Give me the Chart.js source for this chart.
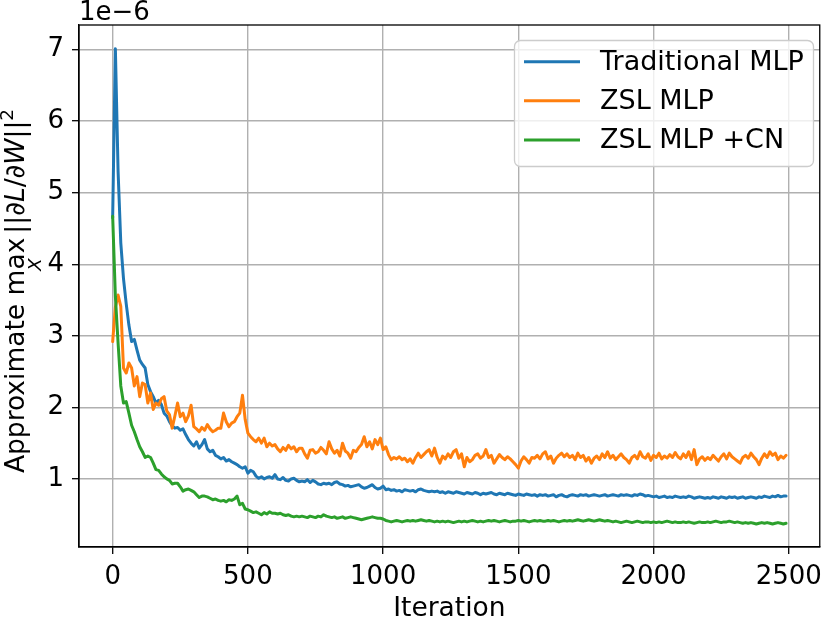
<!DOCTYPE html>
<html>
<head>
<meta charset="utf-8">
<script src="https://cdn.jsdelivr.net/npm/chart.js@4.4.0/dist/chart.umd.min.js"></script>
<style>
  html, body { margin: 0; padding: 0; background: #fff; }
  #wrap { width: 830px; height: 621px; }
</style>
</head>
<body>
<div id="wrap"><canvas id="chart" width="830" height="621"></canvas></div>
<script>
// values, one point every 10 iterations (rows of 100 iterations)
const ITER_STEP = 10;

const traditionalMLP = [
  4.65, 7.01, 5.30, 4.30, 3.80, 3.45, 3.15, 2.92, 2.95, 2.80,
  2.66, 2.60, 2.55, 2.32, 2.22, 2.15, 2.06, 2.10, 2.04, 1.92,
  1.88, 1.80, 1.74, 1.71, 1.72, 1.68, 1.70, 1.62, 1.55, 1.50,
  1.46, 1.52, 1.43, 1.48, 1.55, 1.42, 1.38, 1.40, 1.33, 1.31,
  1.28, 1.30, 1.25, 1.27, 1.24, 1.22, 1.20, 1.17, 1.15, 1.17,
  1.08, 1.12, 1.10, 1.04, 1.01, 1.03, 1.00, 1.02, 1.03, 1.01,
  1.06, 1.00, 0.99, 1.02, 0.98, 0.97, 1.00, 1.01, 0.98, 0.96,
  0.97, 0.96, 0.99, 0.95, 0.98, 0.96, 0.93, 0.92, 0.94, 0.93,
  0.94, 0.92, 0.95, 0.96, 0.93, 0.92, 0.90, 0.91, 0.89, 0.90,
  0.91, 0.92, 0.89, 0.87, 0.88, 0.90, 0.92, 0.88, 0.86, 0.87,
  0.90, 0.85, 0.86, 0.84, 0.85, 0.83, 0.84, 0.82, 0.85, 0.84,
  0.83, 0.84, 0.82, 0.85, 0.86, 0.84, 0.83, 0.82, 0.83, 0.82,
  0.83, 0.81, 0.82, 0.80, 0.82, 0.81, 0.80, 0.82, 0.81, 0.80,
  0.79, 0.81, 0.80, 0.79, 0.81, 0.80, 0.78, 0.80, 0.79, 0.80,
  0.81, 0.79, 0.78, 0.80, 0.79, 0.78, 0.80, 0.79, 0.78, 0.77,
  0.79, 0.78, 0.77, 0.79, 0.78, 0.77, 0.78, 0.76, 0.78, 0.77,
  0.78, 0.76, 0.77, 0.78, 0.75, 0.77, 0.78, 0.76, 0.75, 0.77,
  0.78, 0.77, 0.76, 0.78, 0.77, 0.78, 0.76, 0.77, 0.78, 0.77,
  0.76, 0.77, 0.78, 0.76, 0.77, 0.78, 0.77, 0.76, 0.78, 0.77,
  0.78, 0.77, 0.76, 0.78, 0.77, 0.79, 0.78, 0.76, 0.77, 0.76,
  0.75, 0.76, 0.74, 0.75, 0.76, 0.74, 0.75, 0.74, 0.76, 0.75,
  0.74, 0.75, 0.74, 0.76, 0.75, 0.73, 0.74, 0.75, 0.74, 0.73,
  0.74, 0.73, 0.75, 0.74, 0.73, 0.75, 0.74, 0.73, 0.75, 0.74,
  0.75, 0.73, 0.74, 0.75, 0.73, 0.74, 0.75, 0.74, 0.73, 0.75,
  0.74, 0.76, 0.75, 0.74, 0.76, 0.75, 0.77, 0.75, 0.76, 0.76
];

const zslMLP = [
  2.92, 3.40, 3.57, 3.41, 2.55, 2.48, 2.62, 2.55, 2.30, 2.43,
  2.15, 2.34, 2.32, 2.06, 2.20, 1.97, 2.06, 2.03, 2.12, 2.15,
  1.95, 1.90, 1.71, 1.88, 2.06, 1.87, 1.92, 1.80, 1.88, 2.03,
  1.73, 1.70, 1.66, 1.72, 1.68, 1.76, 1.70, 1.66, 1.68, 1.71,
  1.71, 1.92, 1.80, 1.73, 1.78, 1.80, 1.87, 1.92, 2.17, 1.83,
  1.64, 1.59, 1.55, 1.52, 1.57, 1.50, 1.57, 1.45, 1.50, 1.46,
  1.48, 1.42, 1.38, 1.44, 1.40, 1.47, 1.42, 1.45, 1.38, 1.43,
  1.43, 1.35, 1.29, 1.40, 1.41, 1.36, 1.38, 1.44, 1.40, 1.35,
  1.52, 1.42, 1.36, 1.40, 1.32, 1.50, 1.39, 1.36, 1.29, 1.40,
  1.38, 1.44, 1.48, 1.59, 1.45, 1.52, 1.42, 1.55, 1.48, 1.57,
  1.41, 1.45, 1.34, 1.27, 1.30, 1.28, 1.31, 1.27, 1.29, 1.24,
  1.28, 1.22, 1.30, 1.36, 1.30, 1.34, 1.38, 1.41, 1.32, 1.43,
  1.30, 1.22, 1.32, 1.28, 1.35, 1.30, 1.38, 1.41, 1.29, 1.35,
  1.17, 1.30, 1.24, 1.27, 1.33, 1.35, 1.29, 1.32, 1.41, 1.30,
  1.33, 1.22, 1.28, 1.34, 1.30, 1.27, 1.31, 1.28, 1.24, 1.20,
  1.15, 1.25, 1.31, 1.27, 1.22, 1.30, 1.29, 1.33, 1.28, 1.35,
  1.38, 1.28, 1.32, 1.22, 1.29, 1.33, 1.36, 1.31, 1.35, 1.30,
  1.33, 1.27, 1.36, 1.30, 1.33, 1.25, 1.30, 1.22, 1.29, 1.32,
  1.27, 1.35, 1.30, 1.38, 1.29, 1.33, 1.27, 1.31, 1.35, 1.30,
  1.27, 1.22, 1.30, 1.33, 1.28, 1.38, 1.31, 1.29, 1.35, 1.26,
  1.33, 1.30, 1.36, 1.28, 1.32, 1.29, 1.34, 1.30, 1.37, 1.31,
  1.28, 1.35, 1.30, 1.38, 1.27, 1.41, 1.20, 1.28, 1.31, 1.26,
  1.30, 1.27, 1.33, 1.29, 1.25, 1.31, 1.35, 1.28, 1.36, 1.31,
  1.28, 1.25, 1.22, 1.30, 1.33, 1.29, 1.36, 1.31, 1.27, 1.20,
  1.29, 1.35, 1.30, 1.38, 1.33, 1.36, 1.27, 1.32, 1.29, 1.33
];

const zslMLPCN = [
  4.67, 3.55, 2.90, 2.30, 2.06, 2.08, 1.92, 1.75, 1.66, 1.55,
  1.45, 1.38, 1.30, 1.32, 1.30, 1.22, 1.13, 1.12, 1.07, 1.03,
  1.00, 0.98, 0.93, 0.94, 0.94, 0.89, 0.83, 0.85, 0.86, 0.84,
  0.82, 0.78, 0.74, 0.76, 0.76, 0.75, 0.73, 0.71, 0.72, 0.70,
  0.69, 0.70, 0.68, 0.71, 0.70, 0.72, 0.76, 0.64, 0.66, 0.58,
  0.57, 0.55, 0.53, 0.54, 0.52, 0.50, 0.53, 0.51, 0.54, 0.52,
  0.52, 0.51, 0.52, 0.50, 0.49, 0.50, 0.48, 0.47, 0.48, 0.47,
  0.48, 0.47, 0.46, 0.48, 0.47, 0.46, 0.48, 0.47, 0.50, 0.48,
  0.47, 0.46, 0.47, 0.45, 0.46, 0.47, 0.45, 0.46, 0.47, 0.46,
  0.45, 0.44, 0.43, 0.44, 0.45, 0.46, 0.47, 0.46, 0.45, 0.45,
  0.44, 0.42, 0.41, 0.40, 0.41, 0.42, 0.41, 0.40, 0.41, 0.42,
  0.41, 0.42, 0.41, 0.42, 0.43, 0.42, 0.41, 0.42, 0.41, 0.40,
  0.41, 0.40, 0.41, 0.40, 0.41, 0.40, 0.39, 0.40, 0.41, 0.40,
  0.41, 0.40, 0.41, 0.42, 0.41, 0.40, 0.41, 0.40, 0.41, 0.42,
  0.41, 0.42, 0.41, 0.40, 0.41, 0.42, 0.41, 0.40, 0.41, 0.41,
  0.42, 0.41, 0.42, 0.41, 0.40, 0.41, 0.42, 0.41, 0.42, 0.41,
  0.41, 0.42, 0.41, 0.42, 0.41, 0.40, 0.41, 0.42, 0.41, 0.42,
  0.41, 0.42, 0.43, 0.42, 0.41, 0.42, 0.43, 0.42, 0.41, 0.42,
  0.43, 0.42, 0.41, 0.42, 0.41, 0.40, 0.41, 0.40, 0.39, 0.40,
  0.41, 0.40, 0.39, 0.40, 0.41, 0.40, 0.39, 0.40, 0.40, 0.39,
  0.40, 0.39, 0.40, 0.39, 0.40, 0.41, 0.40, 0.39, 0.40, 0.39,
  0.39, 0.40, 0.39, 0.40, 0.39, 0.38, 0.39, 0.40, 0.39, 0.39,
  0.40, 0.39, 0.40, 0.41, 0.40, 0.39, 0.40, 0.40, 0.41, 0.40,
  0.39, 0.40, 0.39, 0.38, 0.39, 0.38, 0.39, 0.38, 0.37, 0.38,
  0.39, 0.38, 0.39, 0.38, 0.37, 0.38, 0.39, 0.38, 0.37, 0.38
];

const iterations = traditionalMLP.map((_, i) => i * ITER_STEP);
const seriesNames = ['Traditional MLP', 'ZSL MLP', 'ZSL MLP +CN'];
const xTicks = [0, 500, 1000, 1500, 2000, 2500];
const yTicks = [1, 2, 3, 4, 5, 6, 7];
const offsetText = '1e\u22126';
const xTitle = 'Iteration';

const FONT = '"DejaVu Sans", "Noto Sans", sans-serif';
const colors = ['#1f77b4', '#ff7f0e', '#2ca02c'];
const LINE_W = 3;

function toPoints(values) {
  return values.map((v, i) => ({ x: iterations[i], y: v }));
}

// y axis title with the little bit of math in it, drawn piece by piece
function drawYLabel(ctx, baseX, centerY) {
  const big = 26.5, small = 18.5;
  const norm = big + 'px ' + FONT;
  const ital = 'italic ' + big + 'px ' + FONT;
  const parts = [
    { t: 'Approximate ', f: norm },
    { t: 'max', f: norm, sub: 'X', gap: 4 },
    { t: '||', f: norm },
    { t: '\u2202', f: ital },
    { t: 'L', f: ital },
    { t: '/', f: norm },
    { t: '\u2202', f: ital },
    { t: 'W', f: ital },
    { t: '||', f: norm },
    { t: '2', f: small + 'px ' + FONT, dy: -11 }
  ];
  let total = 0;
  parts.forEach(p => {
    ctx.font = p.f;
    p.w = ctx.measureText(p.t).width + (p.gap || 0);
    total += p.w;
  });
  ctx.save();
  ctx.translate(baseX, centerY);
  ctx.rotate(-Math.PI / 2);
  ctx.fillStyle = '#000';
  ctx.textAlign = 'left';
  ctx.textBaseline = 'alphabetic';
  let u = -total / 2;
  parts.forEach(p => {
    ctx.font = p.f;
    ctx.fillText(p.t, u, p.dy || 0);
    if (p.sub) {
      ctx.font = 'italic ' + small + 'px ' + FONT;
      const sw = ctx.measureText(p.sub).width;
      ctx.fillText(p.sub, u + (p.w - p.gap - sw) / 2 + 2, 17);
    }
    u += p.w;
  });
  ctx.restore();
}

function drawLegend(ctx, chart) {
  const bx = 514.5, by = 40.5, bw = 299, bh = 126;
  ctx.beginPath();
  ctx.roundRect(bx, by, bw, bh, 6);
  ctx.fillStyle = 'rgba(255,255,255,0.8)';
  ctx.fill();
  ctx.strokeStyle = '#cccccc';
  ctx.lineWidth = 1.3;
  ctx.stroke();
  const rows = [61.7, 100.7, 140];
  chart.data.datasets.forEach((ds, i) => {
    ctx.beginPath();
    ctx.moveTo(524, rows[i]);
    ctx.lineTo(580, rows[i]);
    ctx.strokeStyle = ds.borderColor;
    ctx.lineWidth = LINE_W;
    ctx.stroke();
    ctx.fillStyle = '#000';
    ctx.font = '27px ' + FONT;
    ctx.textAlign = 'left';
    ctx.textBaseline = 'middle';
    ctx.fillText(ds.label, 600, rows[i] + 1);
  });
}

const decorations = {
  id: 'decorations',
  afterDraw(chart) {
    const ctx = chart.ctx;
    const a = chart.chartArea;
    ctx.save();
    ctx.strokeStyle = '#000';
    ctx.lineWidth = 1.3;
    ctx.strokeRect(a.left, a.top, a.right - a.left, a.bottom - a.top);
    ctx.fillStyle = '#000';
    ctx.font = '26px ' + FONT;
    ctx.textAlign = 'left';
    ctx.textBaseline = 'alphabetic';
    ctx.fillText(offsetText, a.left, a.top - 5);
    drawYLabel(ctx, 24, (a.top + a.bottom) / 2 + 5);
    drawLegend(ctx, chart);
    ctx.restore();
  }
};

const gridOpts = {
  color: '#b0b0b0',
  lineWidth: 1.4,
  tickColor: '#000',
  tickLength: 7,
  tickWidth: 1.3
};

function lineSet(i, values, order) {
  return {
    label: seriesNames[i],
    data: toPoints(values),
    borderColor: colors[i],
    borderWidth: LINE_W,
    pointRadius: 0,
    tension: 0,
    fill: false,
    order: order
  };
}

new Chart(document.getElementById('chart'), {
  type: 'line',
  data: {
    datasets: [
      lineSet(0, traditionalMLP, 3),
      lineSet(1, zslMLP, 2),
      lineSet(2, zslMLPCN, 1)
    ]
  },
  options: {
    responsive: false,
    animation: false,
    devicePixelRatio: 1,
    layout: { padding: { top: 25, right: 3, left: 0, bottom: 0 } },
    elements: {
      line: { borderJoinStyle: 'round', borderCapStyle: 'round' },
      point: { radius: 0, hoverRadius: 0 }
    },
    plugins: {
      legend: { display: false },
      tooltip: { enabled: false }
    },
    scales: {
      x: {
        type: 'linear',
        min: -124.5,
        max: 2614.5,
        afterBuildTicks: s => { s.ticks = xTicks.map(v => ({ value: v })); },
        afterFit: s => { s.height = 74; },
        ticks: {
          color: '#000',
          font: { family: FONT, size: 26 },
          padding: 8,
          maxRotation: 0,
          callback: v => String(v)
        },
        grid: gridOpts,
        border: { color: '#000', width: 1.3 },
        title: {
          display: true,
          text: xTitle,
          color: '#000',
          font: { family: FONT, size: 26.5 },
          padding: { top: 0, bottom: -4 }
        }
      },
      y: {
        type: 'linear',
        min: 0.049,
        max: 7.343,
        afterBuildTicks: s => { s.ticks = yTicks.map(v => ({ value: v })); },
        afterFit: s => { s.width = 79; },
        ticks: {
          color: '#000',
          font: { family: FONT, size: 26 },
          padding: 8,
          callback: v => String(v)
        },
        grid: gridOpts,
        border: { color: '#000', width: 1.3 }
      }
    }
  },
  plugins: [decorations]
});
</script>
</body>
</html>
